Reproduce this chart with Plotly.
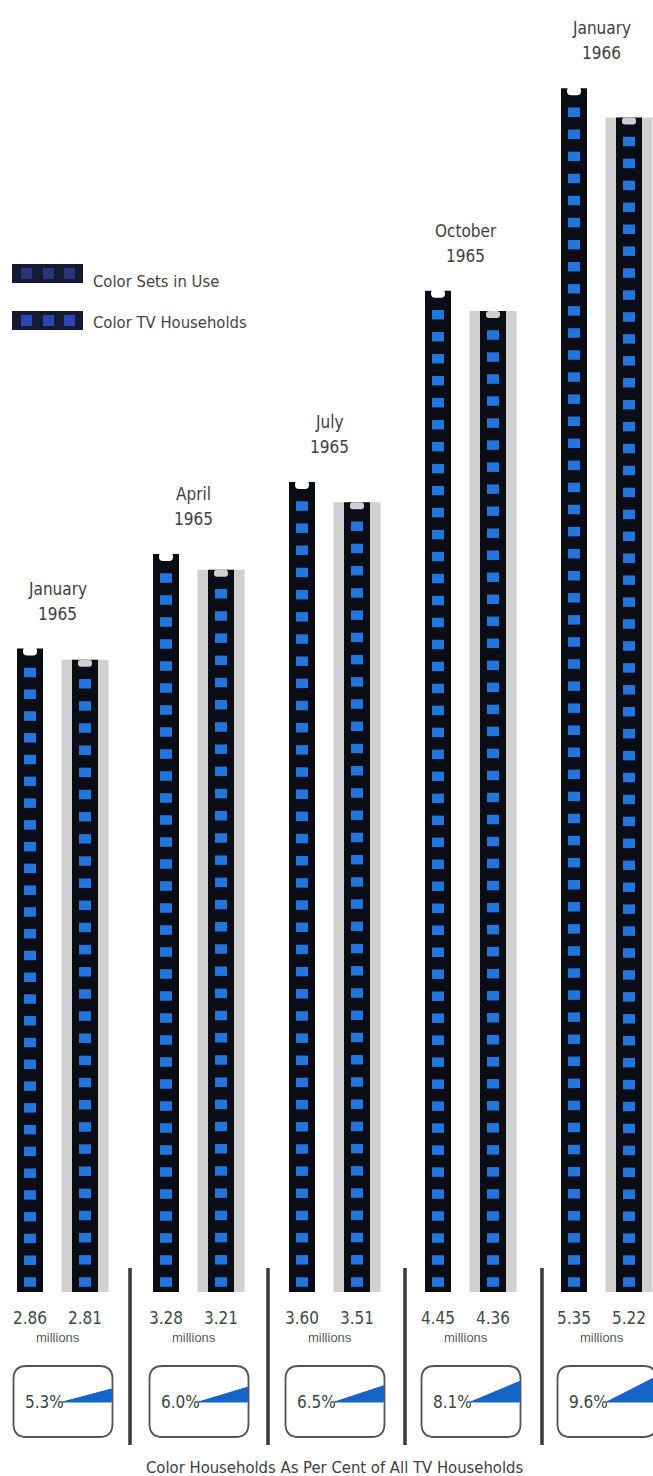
import math
import numpy as np
import plotly.graph_objects as go

# ---------------- data ----------------
period_months = ["January", "April", "July", "October", "January"]
period_years = ["1965", "1965", "1965", "1965", "1966"]
color_sets_in_use = [2.86, 3.28, 3.60, 4.45, 5.35]          # millions
color_tv_households = [2.81, 3.21, 3.51, 4.36, 5.22]        # millions
pct_of_all_tv_households = [5.3, 6.0, 6.5, 8.1, 9.6]        # per cent

legend_labels = ["Color Sets in Use", "Color TV Households"]
units_label = "millions"
footer_title = "Color Households As Per Cent of All TV Households"

# ---------------- geometry (pixels) ----------------
W, H = 653, 1476
X0, XU = 57.5, 136.0      # pixel of group 0 centre, pixels per group
Y0, YU = 1292.0, 225.0    # baseline pixel, pixels per million


def xd(px):
    return (px - X0) / XU


def yd(py):
    return (Y0 - py) / YU


OFF = 27.5 / XU
BW = 26.0 / XU
GW = 47.0 / XU
NOTCH_W = 14.0 / XU
NOTCH_D = 7.0 / YU

BLACK = "#0a0c16"
GRAY = "#d0d0d0"
BLUE_SQ = "#2176de"
BLUE_WEDGE = "#1464c8"
COND = "DejaVu Sans Condensed, DejaVu Sans, sans-serif"
REGULAR = "Liberation Sans, Arial, sans-serif"

n = len(period_months)
idx = list(range(n))
x1 = [i - OFF for i in idx]
x2 = [i + OFF for i in idx]

fig = go.Figure()

# gray backing band behind the households bars
fig.add_trace(go.Bar(x=x2, y=color_tv_households, width=GW, marker=dict(color=GRAY, line=dict(width=0)),
                     hoverinfo="skip", showlegend=False))
# black columns
fig.add_trace(go.Bar(x=x1, y=color_sets_in_use, width=BW, marker=dict(color=BLACK, line=dict(width=0)),
                     name=legend_labels[0], showlegend=False))
fig.add_trace(go.Bar(x=x2, y=color_tv_households, width=BW, marker=dict(color=BLACK, line=dict(width=0)),
                     name=legend_labels[1], showlegend=False))

# notches at the top of each column (downward bar from the top, background coloured)
lift = 1.5 / YU
fig.add_trace(go.Bar(x=x1, y=[-(NOTCH_D + lift)] * n, base=[v + lift for v in color_sets_in_use],
                     width=NOTCH_W, marker=dict(color="white", line=dict(width=0), cornerradius=5),
                     hoverinfo="skip", showlegend=False))
fig.add_trace(go.Bar(x=x2, y=[-NOTCH_D] * n, base=color_tv_households, width=NOTCH_W,
                     marker=dict(color=GRAY, line=dict(width=0), cornerradius=5),
                     hoverinfo="skip", showlegend=False))


# blue film-strip squares along each column
def square_positions(xs, values):
    sx, sy = [], []
    step = 22.0 / YU
    for x, v in zip(xs, values):
        top_c = v - 24.0 / YU
        bot_c = 10.0 / YU
        k = int(round((top_c - bot_c) / step)) + 1
        for y in np.linspace(bot_c, top_c, k):
            sx.append(x)
            sy.append(float(y))
    return sx, sy


for xs, vals in ((x1, color_sets_in_use), (x2, color_tv_households)):
    sx, sy = square_positions(xs, vals)
    fig.add_trace(go.Scatter(x=sx, y=sy, mode="markers",
                             marker=dict(symbol="line-ew", size=8.6, color=BLUE_SQ,
                                         line=dict(width=9.5, color=BLUE_SQ)),
                             hoverinfo="skip", showlegend=False))

# percentage wedges inside rounded boxes
BOX_L = -44.0
BOX_R = 55.0
BOX_T, BOX_B = 1366.0, 1437.0
TIP_Y = 1402.0
shapes = []


def rounded_rect_path(l, t, r, b, rad):
    pts = [
        f"M {xd(l + rad)},{yd(t)}",
        f"L {xd(r - rad)},{yd(t)}",
        f"Q {xd(r)},{yd(t)} {xd(r)},{yd(t + rad)}",
        f"L {xd(r)},{yd(b - rad)}",
        f"Q {xd(r)},{yd(b)} {xd(r - rad)},{yd(b)}",
        f"L {xd(l + rad)},{yd(b)}",
        f"Q {xd(l)},{yd(b)} {xd(l)},{yd(b - rad)}",
        f"L {xd(l)},{yd(t + rad)}",
        f"Q {xd(l)},{yd(t)} {xd(l + rad)},{yd(t)}",
        "Z",
    ]
    return " ".join(pts)


annotations = []
for i, p in enumerate(pct_of_all_tv_households):
    cpx = X0 + XU * i
    l, r = cpx + BOX_L, cpx + BOX_R
    shapes.append(dict(type="path", path=rounded_rect_path(l, BOX_T, r, BOX_B, 13),
                       xref="x", yref="y", fillcolor="white",
                       line=dict(color="#555555", width=1.8), layer="below"))
    tip = l + 49
    right = r - 1
    ang = math.radians(p * 3.6 * 0.78)
    rise = (right - tip) * math.tan(ang)
    fig.add_trace(go.Scatter(
        x=[xd(tip), xd(right), xd(right), xd(tip)],
        y=[yd(TIP_Y), yd(TIP_Y), yd(TIP_Y - rise), yd(TIP_Y)],
        mode="lines", fill="toself", fillcolor=BLUE_WEDGE,
        line=dict(color=BLUE_WEDGE, width=1), hoverinfo="skip", showlegend=False))
    annotations.append(dict(x=xd(l + 9), y=yd(TIP_Y), xref="x", yref="y", xanchor="left",
                            yanchor="middle", showarrow=False, text=f"{p:.1f}%",
                            font=dict(family=COND, size=17, color="#3a4641")))

# divider lines between periods
for px in [130, 268, 405, 542]:
    shapes.append(dict(type="line", xref="x", yref="y", x0=xd(px), x1=xd(px),
                       y0=yd(1268), y1=yd(1445), line=dict(color="#3a3a3a", width=3.5)))

# legend swatches
for j, (top, col) in enumerate(((264, "#2a3578"), (311, "#2c47b0"))):
    shapes.append(dict(type="rect", xref="x", yref="y", x0=xd(12), x1=xd(83),
                       y0=yd(top), y1=yd(top + 19), fillcolor="#141a36", line=dict(width=0)))
    for a in (21, 43, 64):
        shapes.append(dict(type="rect", xref="x", yref="y", x0=xd(a), x1=xd(a + 11),
                           y0=yd(top + 4), y1=yd(top + 15), fillcolor=col, line=dict(width=0)))
    annotations.append(dict(x=xd(91), y=yd(top + 9 + 8 if j == 0 else top + 11), xref="x", yref="y",
                            xanchor="left", yanchor="middle", showarrow=False, text=legend_labels[j],
                            font=dict(family=COND, size=16.5, color="#444444")))

# period labels above columns
for i, (mon, yr, v) in enumerate(zip(period_months, period_years, color_sets_in_use)):
    annotations.append(dict(x=i, y=v, xref="x", yref="y", yanchor="middle", yshift=60,
                            showarrow=False, text=mon,
                            font=dict(family=COND, size=17, color="#404040")))
    annotations.append(dict(x=i, y=v, xref="x", yref="y", yanchor="middle", yshift=35,
                            showarrow=False, text=yr,
                            font=dict(family=COND, size=17, color="#404040")))
    annotations.append(dict(x=i, y=0, xref="x", yref="y", yanchor="middle", yshift=-45,
                            showarrow=False, text=units_label,
                            font=dict(family=REGULAR, size=13, color="#56605c")))

# value labels under columns
for xs, vals in ((x1, color_sets_in_use), (x2, color_tv_households)):
    for x, v in zip(xs, vals):
        annotations.append(dict(x=x, y=0, xref="x", yref="y", yanchor="middle", yshift=-26,
                                showarrow=False, text=f"{v:.2f}",
                                font=dict(family=COND, size=17, color="#3f4b46")))

annotations.append(dict(x=xd(334), y=yd(1467), xref="x", yref="y", yanchor="middle",
                        showarrow=False, text=footer_title,
                        font=dict(family=COND, size=16.5, color="#404040")))

fig.update_layout(
    width=W, height=H,
    margin=dict(l=0, r=0, t=0, b=0),
    paper_bgcolor="white", plot_bgcolor="white",
    barmode="overlay",
    showlegend=False,
    xaxis=dict(range=[xd(0), xd(W)], visible=False, fixedrange=True),
    yaxis=dict(range=[yd(H), yd(0)], visible=False, fixedrange=True),
    shapes=shapes,
    annotations=annotations,
)

fig.write_html("out.html")
